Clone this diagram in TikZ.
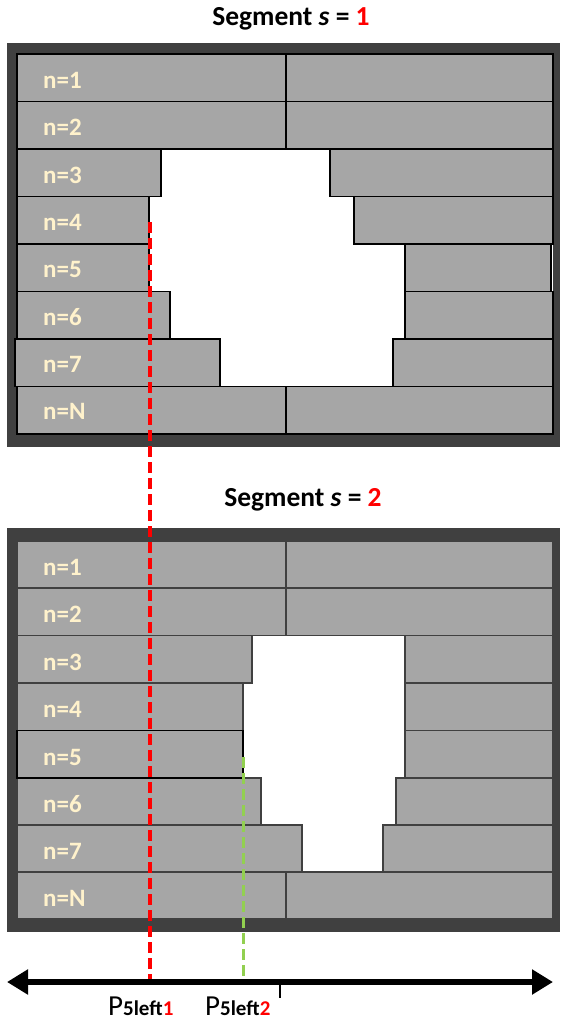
\documentclass[tikz,border=0pt]{standalone}
\usepackage{fontspec}
\setmainfont{Carlito}
\usetikzlibrary{arrows.meta}
\definecolor{framec}{HTML}{404040}
\definecolor{brickc}{HTML}{A6A6A6}
\definecolor{lblc}{HTML}{FFF2CC}
\definecolor{grnc}{HTML}{92D050}
\definecolor{redc}{HTML}{FF0000}
\tikzset{
  framebox/.style={fill=framec, draw=none},
  innerbox/.style={fill=white, draw=none},
  topbrick/.style={fill=brickc, draw=black, line width=1.6pt},
  botbrick/.style={fill=brickc, draw=framec, line width=1.6pt},
  hibrick/.style={fill=brickc, draw=black, line width=1.6pt},
  rowlabel/.style={anchor=west, text=lblc, font=\fontsize{25}{28}\selectfont\bfseries, inner sep=0pt},
  titletext/.style={font=\fontsize{27.5}{30}\selectfont\bfseries, inner sep=0pt},
  reddash/.style={draw=redc, line width=3.6pt, dash pattern=on 11pt off 5pt},
  grndash/.style={draw=grnc, line width=3.6pt, dash pattern=on 11pt off 5pt},
  axisline/.style={draw=black, line width=6pt, {Triangle[length=21pt,width=24pt]}-{Triangle[length=21pt,width=24pt]}},
  axislabel/.style={anchor=base west, inner sep=0pt}
}
\newcommand{\plabel}[1]{{\fontsize{29}{30}\selectfont P}{\fontsize{21}{22}\selectfont\bfseries 5left\textcolor{redc}{#1}}}
\begin{document}
\begin{tikzpicture}[x=1pt,y=-1pt]
\useasboundingbox (0,0) rectangle (560,1023);
% ---------- Segment 1 ----------
\node[titletext] (title1) at (291,19) {Segment \textit{s} = \textcolor{redc}{1}};
\fill[framebox] (7,43) rectangle (560,447);
\fill[innerbox] (17,54) rectangle (553,434);
\draw[topbrick] (17,54) rectangle (286,101.5);
\draw[topbrick] (286,54) rectangle (553,101.5);
\draw[topbrick] (17,101.5) rectangle (286,149);
\draw[topbrick] (286,101.5) rectangle (553,149);
\draw[topbrick] (17,149) rectangle (161,196.5);
\draw[topbrick] (330,149) rectangle (553,196.5);
\draw[topbrick] (17,196.5) rectangle (149,244);
\draw[topbrick] (354,196.5) rectangle (553,244);
\draw[topbrick] (17,244) rectangle (149,291.5);
\draw[topbrick] (405,244) rectangle (551,291.5);
\draw[topbrick] (17,291.5) rectangle (170,339);
\draw[topbrick] (405,291.5) rectangle (553,339);
\draw[topbrick] (15,339) rectangle (220,386.5);
\draw[topbrick] (393,339) rectangle (553,386.5);
\draw[topbrick] (17,386.5) rectangle (286,434);
\draw[topbrick] (286,386.5) rectangle (553,434);
\node[rowlabel] (t1) at (43,80) {n=1};
\node[rowlabel] (t2) at (43,127) {n=2};
\node[rowlabel] (t3) at (43,175) {n=3};
\node[rowlabel] (t4) at (43,222) {n=4};
\node[rowlabel] (t5) at (43,269) {n=5};
\node[rowlabel] (t6) at (43,317) {n=6};
\node[rowlabel] (t7) at (43,364) {n=7};
\node[rowlabel] (tN) at (43,411) {n=N};
% ---------- Segment 2 ----------
\node[titletext] (title2) at (303,500) {Segment \textit{s} = \textcolor{redc}{2}};
\fill[framebox] (7,528) rectangle (560,932);
\fill[innerbox] (17,541) rectangle (553,919);
\draw[botbrick] (17,541) rectangle (286,588);
\draw[botbrick] (286,541) rectangle (553,588);
\draw[botbrick] (17,588) rectangle (286,635.5);
\draw[botbrick] (286,588) rectangle (553,635.5);
\draw[botbrick] (17,635.5) rectangle (252,683);
\draw[botbrick] (405,635.5) rectangle (553,683);
\draw[botbrick] (17,683) rectangle (243,730.5);
\draw[botbrick] (405,683) rectangle (553,730.5);
\draw[botbrick] (405,730.5) rectangle (553,778);
\draw[botbrick] (17,778) rectangle (261,825);
\draw[botbrick] (396,778) rectangle (553,825);
\draw[botbrick] (17,825) rectangle (302,872);
\draw[botbrick] (383,825) rectangle (553,872);
\draw[botbrick] (17,872) rectangle (286,919);
\draw[botbrick] (286,872) rectangle (553,919);
\draw[hibrick] (17,730.5) rectangle (243,778);
\node[rowlabel] (b1) at (43,567) {n=1};
\node[rowlabel] (b2) at (43,614) {n=2};
\node[rowlabel] (b3) at (43,662) {n=3};
\node[rowlabel] (b4) at (43,709) {n=4};
\node[rowlabel] (b5) at (43,757) {n=5};
\node[rowlabel] (b6) at (43,804) {n=6};
\node[rowlabel] (b7) at (43,851) {n=7};
\node[rowlabel] (bN) at (43,898) {n=N};
% ---------- Axis ----------
\coordinate (axL) at (7,982);
\coordinate (axR) at (553,982);
\coordinate (tick) at (280,982);
\coordinate (tickEnd) at (280,998);
\coordinate (redTop) at (150,222);
\coordinate (redBot) at (150,982);
\coordinate (grnTop) at (243.5,757);
\coordinate (grnBot) at (243.5,982);
\draw[reddash] (redTop) -- (redBot);
\draw[grndash] (grnTop) -- (grnBot);
\draw[axisline] (axL) -- (axR);
\draw[line width=2.5pt] (tick) -- (tickEnd);
\node[axislabel] (p1) at (108,1015) {\plabel{1}};
\node[axislabel] (p2) at (205,1015) {\plabel{2}};
\end{tikzpicture}
\end{document}
